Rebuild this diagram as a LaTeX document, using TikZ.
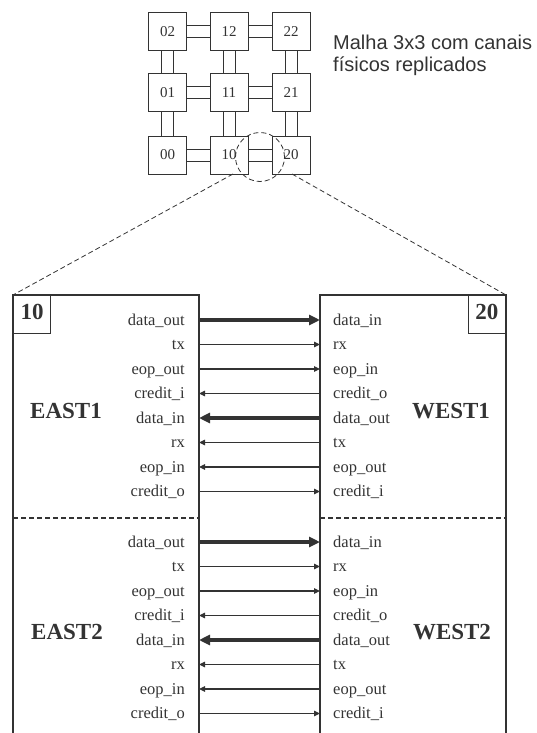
\documentclass[tikz,border=0pt]{standalone}
\usepackage{fontspec}
\setmainfont{Liberation Serif}
\newfontfamily\arialf{Liberation Sans}
\usetikzlibrary{arrows.meta}
\definecolor{ink}{HTML}{333333}
\begin{document}
\begin{tikzpicture}[x=1pt,y=-1pt,
  mbox/.style={draw=ink, line width=1pt, minimum width=38pt, minimum height=38pt, inner sep=0pt,
    text=ink, font=\fontsize{15}{15}\selectfont},
  link/.style={draw=ink, line width=1pt},
  zoomline/.style={draw=ink, line width=0.8pt, dash pattern=on 5pt off 3pt},
  boxline/.style={draw=ink, line width=1.1pt},
  sepline/.style={draw=ink, line width=1.2pt, dash pattern=on 5pt off 3pt},
  sigL/.style={anchor=base east, inner sep=0pt, text=ink, font=\fontsize{16.5}{16.5}\selectfont},
  sigR/.style={anchor=base west, inner sep=0pt, text=ink, font=\fontsize{16.5}{16.5}\selectfont},
  portname/.style={text=ink, font=\bfseries\fontsize{23}{23}\selectfont, inner sep=0pt},
  idbox/.style={draw=ink, line width=1.1pt, minimum width=37pt, minimum height=38pt, inner sep=0pt,
    text depth=6pt, text=ink, font=\bfseries\fontsize{23}{23}\selectfont},
  thinsig/.style={draw=ink, line width=1.1pt},
  thicksig/.style={draw=ink, line width=3.5pt},
  ar/.style={thinsig, -{Triangle[length=6pt,width=5.5pt]}},
  al/.style={thinsig, {Triangle[length=6pt,width=5.5pt]}-},
  AR/.style={thicksig, -{Triangle[length=11pt,width=10pt]}},
  AL/.style={thicksig, {Triangle[length=11pt,width=10pt]}-},
  title/.style={anchor=base west, inner sep=0pt, text=ink, font=\arialf\fontsize{20}{20}\selectfont}
]
\useasboundingbox (0,0) rectangle (537,733);

% ---- mesh
\node[mbox] (m02) at (167.5,31.5) {02};
\node[mbox] (m12) at (229,31.5) {12};
\node[mbox] (m22) at (291,31.5) {22};
\node[mbox] (m01) at (167.5,93) {01};
\node[mbox] (m11) at (229,93) {11};
\node[mbox] (m21) at (291,93) {21};
\node[mbox] (m00) at (167.5,155) {00};
\node[mbox] (m10) at (229,155) {10};
\node[mbox] (m20) at (291,155) {20};

\foreach \a/\b in {m02/m12,m12/m22,m01/m11,m11/m21,m00/m10,m10/m20}{
  \draw[link] ([yshift=6pt]\a.east) -- ([yshift=6pt]\b.west);
  \draw[link] ([yshift=-6pt]\a.east) -- ([yshift=-6pt]\b.west);
}
\foreach \a/\b in {m02/m01,m01/m00,m12/m11,m11/m10,m22/m21,m21/m20}{
  \draw[link] ([xshift=-6pt]\a.south) -- ([xshift=-6pt]\b.north);
  \draw[link] ([xshift=6pt]\a.south) -- ([xshift=6pt]\b.north);
}

\node[title] (t1) at (333,50) {Malha 3x3 com canais};
\node[title] (t2) at (333,71.5) {físicos replicados};

% ---- zoom circle and lines
\coordinate (zc) at (260,157);
\draw[zoomline] (zc) circle (24.5pt);
\coordinate (zl) at (233,174);
\coordinate (zr) at (292,174);

% ---- big boxes
\coordinate (Ltl) at (13,295);
\coordinate (Ltr) at (199,295);
\coordinate (Rtl) at (320,295);
\coordinate (Rtr) at (506,295);
\coordinate (Lbl) at (13,733);
\coordinate (Lbr) at (199,733);
\coordinate (Rbl) at (320,733);
\coordinate (Rbr) at (506,733);
\draw[boxline] (Lbl) -- (Ltl) -- (Ltr) -- (Lbr);
\draw[boxline] (Rbl) -- (Rtl) -- (Rtr) -- (Rbr);
\draw[zoomline] (zl) -- (Ltl);
\draw[zoomline] (zr) -- (Rtr);

\node[idbox, anchor=north west] (id10) at (Ltl) {10};
\node[idbox, anchor=north east] (id20) at (Rtr) {20};

\coordinate (sL1) at (13,518);
\coordinate (sL2) at (199,518);
\coordinate (sR1) at (320,518);
\coordinate (sR2) at (506,518);
\draw[sepline] (sL1) -- (sL2);
\draw[sepline] (sR1) -- (sR2);

\node[portname] (east1) at (66,411) {EAST1};
\node[portname] (west1) at (451,411) {WEST1};
\node[portname] (east2) at (67,632) {EAST2};
\node[portname] (west2) at (452,632) {WEST2};

% ---- signals
\foreach \g/\yb in {1/320,2/542}{
  \foreach \ll/\rl/\st [count=\i from 0] in {data\_out/data\_in/AR, tx/rx/ar, eop\_out/eop\_in/ar,
      credit\_i/credit\_o/al, data\_in/data\_out/AL, rx/tx/al,
      eop\_in/eop\_out/al, credit\_o/credit\_i/ar}{
    \pgfmathsetmacro{\yy}{\yb+24.5*\i}
    \coordinate (a\g\i) at (199,\yy);
    \coordinate (b\g\i) at (320,\yy);
    \node[sigL] (l\g\i) at (185,\yy+5) {\ll};
    \node[sigR] (r\g\i) at (333,\yy+5) {\rl};
    \draw[\st] (a\g\i) -- (b\g\i);
  }
}
\end{tikzpicture}
\end{document}
